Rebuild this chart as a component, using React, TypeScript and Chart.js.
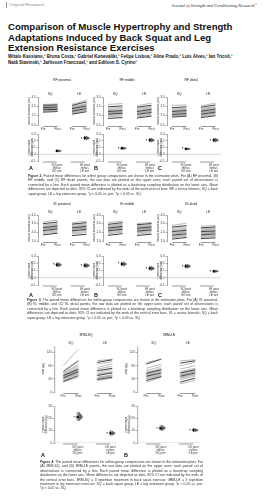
import React, { useEffect, useRef } from 'react';
import { Chart, registerables } from 'chart.js';
Chart.register(...registerables);

const FONT = "'Liberation Sans', Arial, sans-serif";
Chart.defaults.font.family = FONT;
Chart.defaults.color = '#333';

// ---------------- DATA ----------------
const prePostLabels = ['Pre', 'Post', 'Pre', 'Post'];
const groupNames = ['SQ', 'LE'];
const diffLabels = [['SQ post', 'minus', 'SQ pre'], ['LE post', 'minus', 'LE pre']];

// Figure 2 – rectus femoris muscle thickness (cm)
const rfProxSqPre = [2.70, 2.62, 2.55, 2.48, 2.42, 2.36, 2.30, 2.25, 2.20, 2.14, 2.08, 2.02, 1.95, 1.88];
const rfProxSqPost = [2.76, 2.66, 2.62, 2.52, 2.47, 2.43, 2.35, 2.28, 2.27, 2.18, 2.12, 2.09, 1.98, 1.94];
const rfProxLePre = [2.72, 2.60, 2.48, 2.40, 2.33, 2.26, 2.20, 2.12, 2.05, 1.98, 1.90, 1.82, 1.74, 1.66];
const rfProxLePost = [3.15, 2.98, 2.80, 2.72, 2.62, 2.55, 2.45, 2.40, 2.30, 2.26, 2.15, 2.08, 2.00, 1.92];

const rfMidSqPre = [2.70, 2.45, 2.30, 2.15, 2.05, 1.95, 1.88, 1.80, 1.74, 1.68, 1.60, 1.50, 1.38, 1.20];
const rfMidSqPost = [2.80, 2.55, 2.38, 2.25, 2.12, 2.05, 1.96, 1.90, 1.82, 1.76, 1.70, 1.58, 1.48, 1.30];
const rfMidLePre = [2.55, 2.40, 2.28, 2.15, 2.05, 1.95, 1.88, 1.80, 1.72, 1.65, 1.55, 1.45, 1.35, 1.25];
const rfMidLePost = [2.85, 2.62, 2.50, 2.38, 2.25, 2.18, 2.08, 2.00, 1.95, 1.85, 1.78, 1.66, 1.55, 1.45];

const rfDistSqPre = [2.60, 2.35, 2.20, 2.10, 2.02, 1.95, 1.88, 1.80, 1.72, 1.65, 1.58, 1.50, 1.42, 1.35];
const rfDistSqPost = [2.65, 2.45, 2.28, 2.18, 2.10, 2.05, 1.95, 1.88, 1.82, 1.72, 1.66, 1.58, 1.50, 1.45];
const rfDistLePre = [2.55, 2.40, 2.25, 2.15, 2.05, 1.98, 1.90, 1.82, 1.74, 1.66, 1.58, 1.50, 1.40, 1.30];
const rfDistLePost = [2.85, 2.65, 2.48, 2.38, 2.28, 2.20, 2.10, 2.02, 1.96, 1.88, 1.80, 1.72, 1.60, 1.50];

const rfProxDiff = [0.05, 0.24];
const rfProxLo = [0.03, 0.21];
const rfProxHi = [0.07, 0.27];
const rfMidDiff = [0.09, 0.21];
const rfMidLo = [0.07, 0.18];
const rfMidHi = [0.11, 0.24];
const rfDistDiff = [0.08, 0.21];
const rfDistLo = [0.06, 0.18];
const rfDistHi = [0.10, 0.24];

// Figure 3 – vastus lateralis muscle thickness (cm)
const vlProxSqPre = [3.20, 3.00, 2.85, 2.72, 2.62, 2.55, 2.46, 2.38, 2.30, 2.20, 2.10, 1.98, 1.85, 1.70];
const vlProxSqPost = [3.40, 3.18, 3.02, 2.92, 2.80, 2.72, 2.65, 2.55, 2.48, 2.40, 2.28, 2.15, 2.02, 1.90];
const vlProxLePre = [3.10, 2.95, 2.82, 2.70, 2.60, 2.52, 2.45, 2.36, 2.28, 2.18, 2.08, 1.95, 1.80, 1.62];
const vlProxLePost = [3.30, 3.12, 3.00, 2.86, 2.78, 2.68, 2.62, 2.52, 2.45, 2.35, 2.25, 2.10, 1.98, 1.78];

const vlMidSqPre = [3.10, 2.92, 2.80, 2.68, 2.58, 2.50, 2.42, 2.34, 2.26, 2.18, 2.08, 1.96, 1.82, 1.65];
const vlMidSqPost = [3.30, 3.12, 2.98, 2.88, 2.78, 2.68, 2.62, 2.52, 2.46, 2.36, 2.28, 2.14, 2.02, 1.85];
const vlMidLePre = [3.00, 2.88, 2.76, 2.66, 2.56, 2.48, 2.40, 2.32, 2.24, 2.15, 2.05, 1.94, 1.80, 1.64];
const vlMidLePost = [3.15, 3.02, 2.90, 2.78, 2.70, 2.62, 2.52, 2.45, 2.36, 2.28, 2.18, 2.06, 1.92, 1.78];

const vlDistSqPre = [2.80, 2.60, 2.45, 2.30, 2.18, 2.08, 1.98, 1.88, 1.78, 1.68, 1.58, 1.48, 1.36, 1.22];
const vlDistSqPost = [3.05, 2.78, 2.62, 2.46, 2.34, 2.24, 2.15, 2.04, 1.95, 1.84, 1.74, 1.64, 1.52, 1.40];
const vlDistLePre = [2.70, 2.52, 2.40, 2.28, 2.18, 2.08, 2.00, 1.90, 1.82, 1.72, 1.62, 1.52, 1.40, 1.28];
const vlDistLePost = [2.80, 2.62, 2.50, 2.38, 2.28, 2.17, 2.08, 2.00, 1.92, 1.82, 1.70, 1.60, 1.50, 1.36];

const vlProxDiff = [0.18, 0.17];
const vlProxLo = [0.15, 0.14];
const vlProxHi = [0.21, 0.20];
const vlMidDiff = [0.19, 0.13];
const vlMidLo = [0.16, 0.10];
const vlMidHi = [0.22, 0.16];
const vlDistDiff = [0.16, 0.09];
const vlDistLo = [0.13, 0.07];
const vlDistHi = [0.19, 0.11];

// Figure 4 – 3RM (kg)
const sq3rmSqPre = [80, 62, 58, 55, 52, 50, 48, 46, 45, 43, 40, 38, 35, 32, 30];
const sq3rmSqPost = [130, 95, 85, 80, 75, 70, 68, 66, 64, 62, 60, 58, 55, 50, 45];
const sq3rmLePre = [95, 90, 85, 75, 70, 65, 60, 55, 52, 50, 45, 42, 40, 38, 35];
const sq3rmLePost = [100, 98, 92, 85, 78, 72, 68, 62, 60, 58, 52, 50, 48, 45, 42];

const le3rmSqPre = [90, 85, 72, 65, 60, 57, 55, 52, 50, 48, 45, 42, 40, 35, 30];
const le3rmSqPost = [100, 100, 85, 78, 72, 68, 66, 64, 60, 58, 56, 52, 50, 47, 45];
const le3rmLePre = [95, 88, 80, 70, 62, 58, 55, 52, 50, 48, 45, 42, 38, 30, 25];
const le3rmLePost = [98, 95, 90, 80, 72, 68, 66, 63, 62, 58, 55, 52, 48, 42, 35];

const sq3rmDiff = [21, 8];
const sq3rmLo = [18, 6];
const sq3rmHi = [25, 10];
const le3rmDiff = [12, 10.5];
const le3rmLo = [10, 9];
const le3rmHi = [14.5, 12];

const violinProfile = [0, 0.3, 0.65, 0.95, 1, 0.85, 0.55, 0.25, 0];

// ---------------- CHART BUILDERS ----------------
type Frame = {
  axisX: number; plotRight: number; plotTop: number; plotBottom: number;
  yAxisW: number; xAxisH: number; padTop: number;
  pos: number[]; xMin: number; xMax: number;
  yMin: number; yMax: number; yStep: number; yTitle: string | string[]; digits: number;
};

function canvasBox(f: Frame) {
  const left = f.axisX - f.yAxisW;
  const top = f.plotTop - f.padTop;
  const width = f.plotRight - left + 2;
  const height = f.plotBottom - top + f.xAxisH;
  return { left, top, width, height };
}

function yScale(f: Frame) {
  return {
    type: 'linear', min: f.yMin, max: f.yMax,
    ticks: { stepSize: f.yStep, font: { size: 3 }, padding: 0.8, color: '#333',
      callback: (v: any) => Number(v).toFixed(f.digits) },
    grid: { drawOnChartArea: false, tickLength: 1.5, color: '#555', lineWidth: 0.5 },
    border: { color: '#555', width: 0.5 },
    title: { display: true, text: f.yTitle, font: { size: 2.8, lineHeight: 1.1 }, padding: { top: 0, bottom: 0.5 }, color: '#333' },
    afterFit: (s: any) => { s.width = f.yAxisW; },
  };
}

function xScale(f: Frame, tickVals: number[], labels: any[], padding: number) {
  return {
    type: 'linear', min: f.xMin, max: f.xMax,
    afterBuildTicks: (s: any) => { s.ticks = tickVals.map((v) => ({ value: v })); },
    ticks: { autoSkip: false, maxRotation: 0, padding, font: { size: 3, lineHeight: 1.05 }, color: '#333',
      callback: (_v: any, i: number) => labels[i] },
    grid: { display: false, drawTicks: false },
    border: { display: false },
    afterFit: (s: any) => { s.height = f.xAxisH; },
  };
}

function pairedConfig(f: Frame, groups: number[][][]) {
  const datasets: any[] = [];
  groups.forEach((g, gi) => {
    g[0].forEach((pre, i) => {
      datasets.push({
        data: [{ x: f.pos[2 * gi], y: pre }, { x: f.pos[2 * gi + 1], y: g[1][i] }],
        borderColor: i % 4 === 1 ? 'rgba(20,20,20,0.9)' : 'rgba(110,110,110,0.8)',
        borderWidth: i % 4 === 1 ? 0.9 : 0.6,
        pointRadius: 0,
      });
    });
  });
  const decor = {
    id: 'pairedDecor',
    afterDraw(chart: any) {
      const { ctx, chartArea, scales } = chart;
      const x = scales.x;
      ctx.save();
      ctx.strokeStyle = '#555';
      ctx.lineWidth = 0.6;
      ctx.fillStyle = '#222';
      ctx.font = `3.2px ${FONT}`;
      ctx.textAlign = 'center';
      ctx.textBaseline = 'bottom';
      for (let g = 0; g < 2; g++) {
        const a = x.getPixelForValue(f.pos[2 * g]);
        const b = x.getPixelForValue(f.pos[2 * g + 1]);
        ctx.beginPath();
        ctx.moveTo(a, chartArea.bottom + 1.5);
        ctx.lineTo(b, chartArea.bottom + 1.5);
        ctx.stroke();
        ctx.fillText(groupNames[g], (a + b) / 2, chartArea.top - 1);
      }
      ctx.restore();
    },
  };
  return {
    type: 'line',
    data: { datasets },
    options: {
      animation: false, responsive: false, devicePixelRatio: 1, events: [],
      layout: { padding: { top: f.padTop, right: 2, left: 0, bottom: 0 } },
      plugins: { legend: { display: false }, tooltip: { enabled: false } },
      scales: { x: xScale(f, f.pos, prePostLabels, 3), y: yScale(f) },
    },
    plugins: [decor],
  };
}

function diffConfig(f: Frame, means: number[], lo: number[], hi: number[], marks: string[]) {
  const xs = [f.pos[1], f.pos[3]];
  const datasets: any[] = [
    { data: [{ x: f.xMin, y: 0 }, { x: f.xMax, y: 0 }], borderColor: '#bbb', borderWidth: 0.6, pointRadius: 0 },
  ];
  xs.forEach((p, i) => {
    datasets.push({ data: [{ x: p, y: lo[i] }, { x: p, y: hi[i] }], borderColor: '#000', borderWidth: 0.7, pointRadius: 0 });
    datasets.push({ data: [{ x: p, y: means[i] }], showLine: false, pointRadius: 1.2, pointBackgroundColor: '#000', pointBorderWidth: 0 });
  });
  const decor = {
    id: 'diffDecor',
    beforeDatasetsDraw(chart: any) {
      const { ctx, scales } = chart;
      const x = scales.x, y = scales.y;
      ctx.save();
      ctx.fillStyle = 'rgba(40,40,40,0.75)';
      xs.forEach((p, i) => {
        const span = hi[i] - lo[i];
        const y0 = lo[i] - span * 0.1, y1 = hi[i] + span * 0.1;
        const px = x.getPixelForValue(p) + 1;
        ctx.beginPath();
        ctx.moveTo(px, y.getPixelForValue(y0));
        violinProfile.forEach((d, k) => {
          const vy = y0 + (y1 - y0) * k / (violinProfile.length - 1);
          ctx.lineTo(px + d * 4, y.getPixelForValue(vy));
        });
        ctx.lineTo(px, y.getPixelForValue(y1));
        ctx.closePath();
        ctx.fill();
      });
      ctx.restore();
    },
    afterDraw(chart: any) {
      const { ctx, chartArea, scales } = chart;
      const x = scales.x, y = scales.y;
      ctx.save();
      ctx.strokeStyle = '#555';
      ctx.lineWidth = 0.6;
      for (let g = 0; g < 2; g++) {
        const a = x.getPixelForValue(f.pos[2 * g]);
        const b = x.getPixelForValue(f.pos[2 * g + 1]);
        ctx.beginPath();
        ctx.moveTo(a, chartArea.bottom + 1);
        ctx.lineTo(b, chartArea.bottom + 1);
        ctx.stroke();
      }
      ctx.fillStyle = '#111';
      ctx.font = `bold 3.6px ${FONT}`;
      ctx.textAlign = 'right';
      ctx.textBaseline = 'middle';
      xs.forEach((p, i) => {
        if (marks[i]) ctx.fillText(marks[i], x.getPixelForValue(p) - 2.5, y.getPixelForValue(means[i]) + 0.5);
      });
      ctx.restore();
    },
  };
  return {
    type: 'line',
    data: { datasets },
    options: {
      animation: false, responsive: false, devicePixelRatio: 1, events: [],
      layout: { padding: { top: f.padTop, right: 2, left: 0, bottom: 0 } },
      plugins: { legend: { display: false }, tooltip: { enabled: false } },
      scales: { x: xScale(f, xs, diffLabels, 2.5), y: yScale(f) },
    },
    plugins: [decor],
  };
}

function ChartBox({ frame, config }: { frame: Frame; config: () => any }) {
  const ref = useRef<HTMLCanvasElement>(null);
  const box = canvasBox(frame);
  useEffect(() => {
    const chart = new Chart(ref.current as HTMLCanvasElement, config());
    return () => chart.destroy();
  }, []);
  return (
    <canvas ref={ref} width={box.width} height={box.height}
      style={{ position: 'absolute', left: box.left, top: box.top, width: box.width, height: box.height }} />
  );
}

// ---------------- LAYOUT ----------------
function T({ x, y, size, children, bold, color, align, italic, family, w }: any) {
  const style: any = {
    position: 'absolute', top: y - size / 2, fontSize: size, lineHeight: `${size}px`,
    fontWeight: bold ? 'bold' : 'normal', fontStyle: italic ? 'italic' : 'normal',
    color: color || '#111', fontFamily: family || FONT, whiteSpace: 'nowrap',
  };
  if (align === 'center') { style.left = x - 50; style.width = 100; style.textAlign = 'center'; }
  else if (align === 'right') { style.left = x - (w || 120); style.width = w || 120; style.textAlign = 'right'; }
  else style.left = x;
  return <div style={style}>{children}</div>;
}

function Caption({ x, y, w, children }: any) {
  return (
    <div style={{ position: 'absolute', left: x, top: y, width: w, fontSize: 3.45, lineHeight: '4.4px',
      fontFamily: FONT, color: '#333', textAlign: 'justify' }}>{children}</div>
  );
}

const f23Axis = [38, 103, 167];
function frame23(axisX: number, plotTop: number, plotBottom: number, yMin: number, yMax: number, yStep: number, yTitle: any, xAxisH: number): Frame {
  return {
    axisX, plotRight: axisX + 56, plotTop, plotBottom, yAxisW: 10, xAxisH, padTop: 6,
    pos: [0, 1, 2, 3], xMin: -5 / 14.5, xMax: -5 / 14.5 + 56 / 14.5,
    yMin, yMax, yStep, yTitle, digits: 1,
  };
}
const f4Axis = [54, 137];
function frame4(axisX: number, plotTop: number, plotBottom: number, yMin: number, yMax: number, yStep: number, yTitle: any, xAxisH: number): Frame {
  return {
    axisX, plotRight: axisX + 64.5, plotTop, plotBottom, yAxisW: 12, xAxisH, padTop: 6,
    pos: [0, 1, 2.25, 3.25], xMin: -0.6, xMax: 3.7,
    yMin, yMax, yStep, yTitle, digits: 0,
  };
}

const thickTitle = 'Muscle thickness (cm)';
const diffTitleCm = ['Paired mean', 'difference (cm)'];
const diffTitleKg = ['Paired mean', 'difference (kg)'];

export default function App() {
  const fig2Top = [
    [[rfProxSqPre, rfProxSqPost], [rfProxLePre, rfProxLePost]],
    [[rfMidSqPre, rfMidSqPost], [rfMidLePre, rfMidLePost]],
    [[rfDistSqPre, rfDistSqPost], [rfDistLePre, rfDistLePost]],
  ];
  const fig2Diff = [[rfProxDiff, rfProxLo, rfProxHi], [rfMidDiff, rfMidLo, rfMidHi], [rfDistDiff, rfDistLo, rfDistHi]];
  const fig2Marks = [['', '*'], ['*', '*'], ['*', '*']];
  const fig3Top = [
    [[vlProxSqPre, vlProxSqPost], [vlProxLePre, vlProxLePost]],
    [[vlMidSqPre, vlMidSqPost], [vlMidLePre, vlMidLePost]],
    [[vlDistSqPre, vlDistSqPost], [vlDistLePre, vlDistLePost]],
  ];
  const fig3Diff = [[vlProxDiff, vlProxLo, vlProxHi], [vlMidDiff, vlMidLo, vlMidHi], [vlDistDiff, vlDistLo, vlDistHi]];
  const fig3Marks = [['*', '*'], ['*', '*'], ['*', '*']];
  const fig4Top = [
    [[sq3rmSqPre, sq3rmSqPost], [sq3rmLePre, sq3rmLePost]],
    [[le3rmSqPre, le3rmSqPost], [le3rmLePre, le3rmLePost]],
  ];
  const fig4Diff = [[sq3rmDiff, sq3rmLo, sq3rmHi], [le3rmDiff, le3rmLo, le3rmHi]];
  const fig4Marks = [['*', '*'], ['*', '*']];

  const f2Titles = ['RF proximal', 'RF middle', 'RF distal'];
  const f3Titles = ['VL proximal', 'VL middle', 'VL distal'];
  const f4Titles = ['3RM-SQ', '3RM-LE'];
  const letters = ['A', 'B', 'C'];

  return (
    <div style={{ position: 'fixed', left: 0, top: 0, width: 264, height: 500, background: '#fff', overflow: 'hidden', fontFamily: FONT }}>
      {/* header */}
      <div style={{ position: 'absolute', left: 6, top: 2, width: 0.8, height: 6, background: '#999' }} />
      <T x={9} y={5} size={4.4} color="#888">Original Research</T>
      <T x={257} y={5} size={4.4} italic align="right" family="'Liberation Serif', serif" color="#333">Journal of Strength and Conditioning Research<sup style={{ fontSize: 2.5 }}>™</sup></T>

      {/* title */}
      <T x={8} y={27} size={9.6} bold>Comparison of Muscle Hypertrophy and Strength</T>
      <T x={8} y={37.5} size={9.6} bold>Adaptations Induced by Back Squat and Leg</T>
      <T x={8} y={48} size={9.6} bold>Extension Resistance Exercises</T>
      <T x={8} y={57.3} size={4.5} bold>Witalo Kassiano,¹ Bruna Costa,¹ Gabriel Kunevaliki,¹ Felipe Lisboa,¹ Aline Prado,¹ Luis Alves,¹ Ian Tricoli,¹</T>
      <T x={8} y={63.3} size={4.5} bold>Natã Stavinski,¹ Jarlisson Francsuel,¹ and Edilson S. Cyrino¹</T>

      {/* Figure 2 */}
      {f23Axis.map((ax, i) => {
        const ft = frame23(ax, 97, 125, 0.5, 3.5, 0.5, thickTitle, 7);
        const fd = frame23(ax, 134, 161, -0.1, 0.3, 0.1, diffTitleCm, 11);
        const d = fig2Diff[i];
        return (
          <React.Fragment key={'f2' + i}>
            <T x={ax + 24} y={81} size={3.3} align="center">{f2Titles[i]}</T>
            <ChartBox frame={ft} config={() => pairedConfig(ft, fig2Top[i])} />
            <ChartBox frame={fd} config={() => diffConfig(fd, d[0], d[1], d[2], fig2Marks[i])} />
            <T x={ax - 9} y={169} size={5.5} bold>{letters[i]}</T>
          </React.Fragment>
        );
      })}
      <Caption x={28} y={174} w={190}>
        <b>Figure 2.</b> Paired mean differences for within group comparisons are shown in the estimation plots. For (A) RF proximal,
        (B) RF middle, and (C) RF distal panels, the raw data are plotted on the upper axes; each paired set of observations is
        connected by a line. Each paired mean difference is plotted as a bootstrap sampling distribution on the lower axis. Mean
        differences are depicted as dots; 95% CI are indicated by the ends of the vertical error bars. RF = rectus femoris; SQ =
        back squat group; LE = leg extension group. *p &lt; 0.05 vs. pre; †p &lt; 0.05 vs. SQ.
      </Caption>

      {/* Figure 3 */}
      {f23Axis.map((ax, i) => {
        const ft = frame23(ax, 215, 241, 1.0, 4.0, 0.5, thickTitle, 7);
        const fd = frame23(ax, 256, 285, -0.1, 0.3, 0.1, diffTitleCm, 11);
        const d = fig3Diff[i];
        return (
          <React.Fragment key={'f3' + i}>
            <T x={ax + 24} y={205} size={3.3} align="center">{f3Titles[i]}</T>
            <ChartBox frame={ft} config={() => pairedConfig(ft, fig3Top[i])} />
            <ChartBox frame={fd} config={() => diffConfig(fd, d[0], d[1], d[2], fig3Marks[i])} />
            <T x={ax - 9} y={296} size={5.5} bold>{letters[i]}</T>
          </React.Fragment>
        );
      })}
      <Caption x={27} y={298} w={191}>
        <b>Figure 3.</b> The paired mean differences for within-group comparisons are shown in the estimation plots. For (A) VL
        proximal, (B) VL middle, and (C) VL distal panels, the raw data are plotted on the upper axes; each paired set of
        observations is connected by a line. Each paired mean difference is plotted as a bootstrap sampling distribution on the
        lower axis. Mean differences are depicted as dots; 95% CI are indicated by the ends of the vertical error bars. VL = vastus
        lateralis; SQ = back squat group; LE = leg extension group. *p &lt; 0.05 vs. pre; †p &lt; 0.05 vs. SQ.
      </Caption>

      {/* Figure 4 */}
      {f4Axis.map((ax, i) => {
        const ft = frame4(ax, 346, 392, 0, 140, 20, '3RM (kg)', 8);
        const fd = frame4(ax, 406, 443, 0, 30, 5, diffTitleKg, 12);
        const d = fig4Diff[i];
        return (
          <React.Fragment key={'f4' + i}>
            <T x={ax + 32} y={336} size={3.4} align="center">{f4Titles[i]}</T>
            <ChartBox frame={ft} config={() => pairedConfig(ft, fig4Top[i])} />
            <ChartBox frame={fd} config={() => diffConfig(fd, d[0], d[1], d[2], fig4Marks[i])} />
            <T x={ax - 13} y={456} size={5.5} bold>{letters[i]}</T>
          </React.Fragment>
        );
      })}
      <Caption x={40} y={460} w={163}>
        <b>Figure 4.</b> The paired mean differences for within-group comparisons are shown in the estimation plots. For
        (A) 3RM-SQ, and (B) 3RM-LE panels, the raw data are plotted on the upper axes; each paired set of
        observations is connected by a line. Each paired mean difference is plotted as a bootstrap sampling
        distribution on the lower axis. Mean differences are depicted as dots; 95% CI are indicated by the ends of
        the vertical error bars. 3RM-SQ = 3 repetition maximum in back squat exercise; 3RM-LE = 3 repetition
        maximum in leg extension exercise; SQ = back squat group; LE = leg extension group. *p &lt; 0.05 vs. pre;
        †p &lt; 0.05 vs. SQ.
      </Caption>
    </div>
  );
}
